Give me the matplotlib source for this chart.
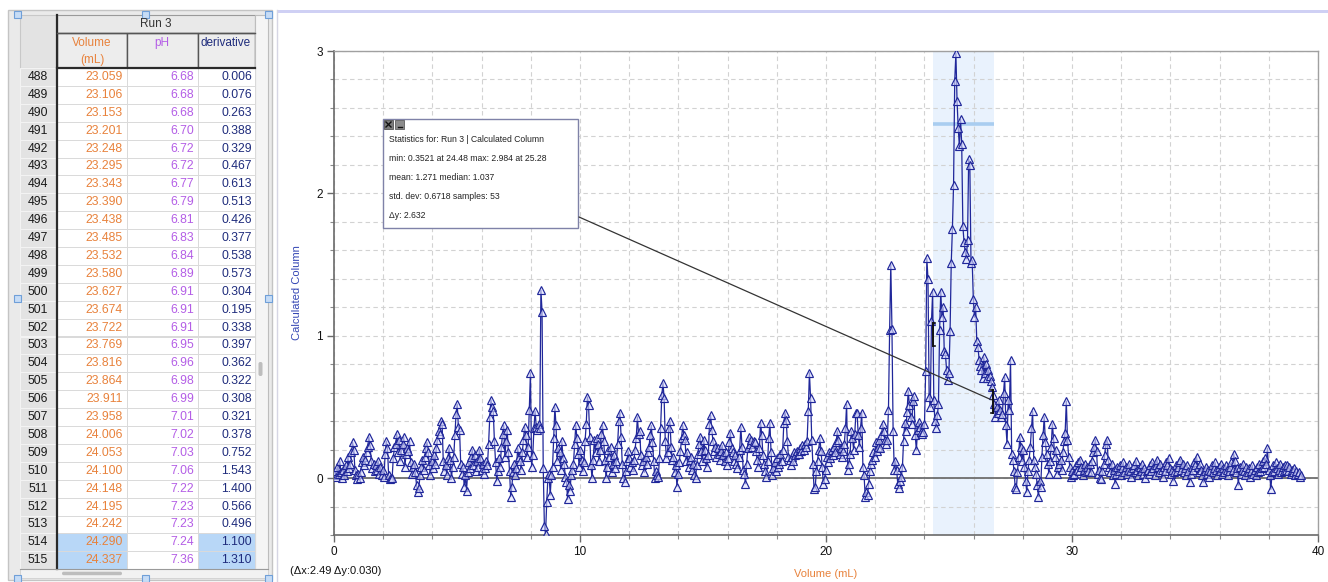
import numpy as np
import matplotlib
matplotlib.use("Agg")
import matplotlib.pyplot as plt
from matplotlib.patches import Rectangle, FancyBboxPatch, ConnectionPatch
from matplotlib.ticker import MultipleLocator

plt.rcParams['font.family'] = ['Liberation Sans', 'DejaVu Sans']

# ---------------- Run 3 table rows ----------------
row_numbers = list(range(488, 516))
table_volume = [23.059, 23.106, 23.153, 23.201, 23.248, 23.295, 23.343, 23.390,
                23.438, 23.485, 23.532, 23.580, 23.627, 23.674, 23.722, 23.769,
                23.816, 23.864, 23.911, 23.958, 24.006, 24.053, 24.100, 24.148,
                24.195, 24.242, 24.290, 24.337]
table_ph = [6.68, 6.68, 6.68, 6.70, 6.72, 6.72, 6.77, 6.79, 6.81, 6.83, 6.84, 6.89,
            6.91, 6.91, 6.91, 6.95, 6.96, 6.98, 6.99, 7.01, 7.02, 7.03, 7.06, 7.22,
            7.23, 7.23, 7.24, 7.36]
table_deriv = [0.006, 0.076, 0.263, 0.388, 0.329, 0.467, 0.613, 0.513, 0.426, 0.377,
               0.538, 0.573, 0.304, 0.195, 0.338, 0.397, 0.362, 0.322, 0.308, 0.321,
               0.378, 0.752, 1.543, 1.400, 0.566, 0.496, 1.100, 1.310]
selected_rows = [514, 515]

# ---------------- Calculated Column (derivative) by volume range ----------------
deriv_0_4mL = [
    0.02, 0.05, 0.01, 0.08, 0.03, 0.12, 0.04, 0.00, 0.06, 0.02,
    0.09, 0.05, 0.15, 0.07, 0.10, 0.18, 0.25, 0.20, 0.06, 0.02,
    -0.01, 0.03, 0.00, 0.04, 0.11, 0.15, 0.09, 0.13, 0.18, 0.22,
    0.29, 0.23, 0.12, 0.07, 0.10, 0.05, 0.09, 0.06, 0.12, 0.03,
    0.08, 0.02, 0.06, 0.01, 0.17, 0.26, 0.21, 0.02, -0.01, 0.00,
    0.00, 0.14, 0.22, 0.24, 0.31, 0.18, 0.27, 0.12, 0.20, 0.24,
    0.29, 0.08, 0.17, 0.21, 0.19, 0.26, 0.11, 0.03, 0.08, 0.10,
    0.04, -0.05, -0.10, -0.07, 0.02, 0.08, 0.13, 0.06, 0.15, 0.21,
    0.25, 0.18, 0.09, 0.02, 0.12, 0.07, 0.16, 0.10, 0.21, 0.27,
    0.33, 0.31, 0.40, 0.38, 0.12, 0.05, 0.09, 0.02, 0.14, 0.21]
deriv_4_9mL = [
    0.13, 0.00, 0.08, 0.15, 0.30, 0.45, 0.52, 0.36, 0.34, 0.10,
    0.03, 0.08, -0.06, 0.02, -0.09, 0.04, 0.11, 0.07, 0.15, 0.20,
    0.09, 0.16, 0.05, 0.12, 0.08, 0.20, 0.14, 0.06, 0.10, 0.03,
    0.07, 0.12, 0.09, 0.24, 0.43, 0.55, 0.50, 0.47, 0.26, 0.11,
    -0.02, 0.05, 0.14, 0.08, 0.22, 0.31, 0.37, 0.15, 0.26, 0.34,
    0.18, 0.05, -0.13, -0.06, 0.04, 0.10, 0.02, 0.07, 0.21, 0.15,
    0.12, 0.06, 0.18, 0.27, 0.36, 0.30, 0.15, 0.22, 0.48, 0.74,
    0.08, 0.16, 0.35, 0.47, 0.36, 0.34, 0.38, 0.35, 1.32, 1.17,
    0.07, -0.34, -0.39, -0.17, 0.00, 0.03, -0.12, 0.02, 0.08, 0.28,
    0.50, 0.37, 0.12, 0.21, 0.18, 0.06, 0.26, 0.14, 0.10, 0.01]
deriv_9_14mL = [
    -0.03, -0.15, -0.05, -0.09, 0.02, 0.06, 0.10, 0.24, 0.37, 0.28,
    0.17, 0.08, 0.20, 0.13, 0.05, 0.11, 0.26, 0.38, 0.57, 0.51,
    0.29, 0.09, 0.00, 0.13, 0.27, 0.18, 0.28, 0.24, 0.12, 0.20,
    0.31, 0.37, 0.26, 0.13, 0.00, 0.08, 0.20, 0.15, 0.22, 0.04,
    0.10, 0.16, 0.07, 0.12, 0.24, 0.40, 0.46, 0.29, 0.10, 0.00,
    -0.03, 0.05, 0.12, 0.19, 0.14, 0.08, 0.11, 0.06, 0.13, 0.20,
    0.28, 0.43, 0.31, 0.33, 0.16, 0.09, 0.12, 0.04, 0.15, 0.10,
    0.18, 0.22, 0.30, 0.37, 0.25, 0.12, 0.00, 0.05, 0.02, 0.01,
    0.14, 0.35, 0.58, 0.67, 0.56, 0.26, 0.14, 0.18, 0.35, 0.40,
    0.22, 0.13, 0.15, 0.04, 0.09, -0.06, 0.03, 0.11, 0.19, 0.28]
deriv_14_18mL = [
    0.37, 0.30, 0.27, 0.12, 0.18, 0.08, 0.13, 0.15, 0.06, 0.10,
    0.02, 0.00, 0.09, 0.17, 0.24, 0.29, 0.19, 0.12, 0.27, 0.20,
    0.14, 0.08, 0.16, 0.38, 0.44, 0.34, 0.26, 0.19, 0.22, 0.15,
    0.21, 0.17, 0.13, 0.19, 0.23, 0.16, 0.12, 0.18, 0.09, 0.14,
    0.25, 0.32, 0.21, 0.18, 0.12, 0.16, 0.10, 0.07, 0.15, 0.20,
    0.36, 0.22, 0.06, 0.03, -0.04, 0.10, 0.21, 0.29, 0.24, 0.27,
    0.22, 0.26, 0.25, 0.19, 0.13, 0.08, 0.21, 0.39, 0.30, 0.16,
    0.10, 0.05, 0.01, 0.12, 0.28, 0.39, 0.18, 0.02, 0.07, 0.11,
    0.05, 0.14, 0.08, 0.10, 0.17, 0.12, 0.20, 0.39, 0.46, 0.41,
    0.26, 0.15, 0.13, 0.09, 0.15, 0.12, 0.18, 0.16, 0.19, 0.17]
deriv_18_23mL = [
    0.17, 0.21, 0.19, 0.23, 0.20, 0.24, 0.22, 0.26, 0.47, 0.74,
    0.56, 0.27, 0.10, -0.08, -0.06, 0.05, 0.12, 0.20, 0.28, 0.19,
    0.08, -0.04, -0.01, 0.06, 0.15, 0.11, 0.18, 0.14, 0.20, 0.16,
    0.22, 0.18, 0.25, 0.33, 0.27, 0.17, 0.21, 0.15, 0.19, 0.24,
    0.35, 0.52, 0.06, 0.10, 0.17, 0.33, 0.28, 0.20, 0.31, 0.46,
    0.46, 0.30, 0.22, 0.35, 0.46, 0.08, 0.02, -0.13, -0.10, -0.12,
    -0.04, 0.05, 0.10, 0.13, 0.18, 0.15, 0.25, 0.19, 0.22, 0.27,
    0.21, 0.30, 0.38, 0.33, 0.27, 0.24, 0.27, 0.48, 1.04, 1.50,
    1.05, 0.33, 0.06, 0.12, 0.06, -0.04, -0.07, -0.02]
deriv_24_28mL = [
    0.55, 0.40, 0.3521, 0.44, 0.52, 1.037, 1.31, 1.13, 1.20, 0.89,
    0.87, 0.76, 0.69, 0.74,
    1.03, 1.51, 1.75, 2.06, 2.79, 2.984, 2.65, 2.46, 2.33, 2.52,
    2.35, 1.77, 1.66, 1.59, 1.54, 1.67, 2.24, 2.20, 1.51, 1.53,
    1.26, 1.13, 1.20, 0.96, 0.92, 0.83, 0.79, 0.76, 0.70, 0.85,
    0.74, 0.80, 0.70, 0.76, 0.72, 0.68, 0.64, 0.58, 0.52, 0.43,
    0.50, 0.46, 0.55, 0.48, 0.43,
    0.45, 0.60, 0.71, 0.37, 0.24, 0.55, 0.48, 0.83, 0.17, 0.13,
    0.05, -0.06, -0.08, 0.04, 0.15, 0.29, 0.22, 0.12, 0.20, 0.08,
    -0.02, -0.10, 0.05, 0.13, 0.22]
deriv_28_33mL = [
    0.35, 0.47, 0.13, 0.08, 0.03, -0.05, -0.13, -0.02, -0.06, 0.15,
    0.30, 0.43, 0.25, 0.17, 0.10, 0.03, 0.12, 0.22, 0.38, 0.28,
    0.15, 0.20, 0.03, 0.08, 0.10, 0.13, 0.06, 0.18, 0.26, 0.32,
    0.54, 0.27, 0.15, 0.08, 0.01, 0.05, 0.02, 0.03, 0.09, 0.06,
    0.11, 0.05, 0.13, 0.08, 0.02, 0.06, 0.10, 0.04, 0.08, 0.05,
    0.10, 0.04, 0.12, 0.18, 0.22, 0.27, 0.19, 0.03, 0.06, 0.00,
    -0.01, 0.05, 0.10, 0.16, 0.24, 0.27, 0.13, 0.08, 0.04, 0.10,
    0.02, 0.06, -0.04, 0.03, 0.08, 0.05, 0.09, 0.02, 0.07, 0.11,
    0.04, 0.08, 0.03, 0.06, 0.10, 0.05, 0.01, 0.07, 0.09, 0.04,
    0.12, 0.06, 0.02, 0.08, 0.05, 0.10, 0.03, 0.07, 0.00, 0.05]
deriv_33_39mL = [
    0.06, 0.03, 0.09, 0.05, 0.11, 0.07, 0.02, 0.09, 0.13, 0.08,
    0.04, 0.10, 0.06, 0.01, 0.08, 0.05, 0.11, 0.09, 0.14, 0.07,
    0.03, 0.06, -0.02, 0.04, 0.09, 0.05, 0.08, 0.11, 0.13, 0.06,
    0.10, 0.04, 0.07, 0.02, 0.09, 0.05, -0.03, 0.03, 0.08, 0.06,
    0.11, 0.09, 0.15, 0.08, 0.04, 0.10, 0.06, 0.02, -0.03, 0.05,
    0.08, 0.03, 0.06, 0.01, 0.05, 0.09, 0.04, 0.07, 0.11, 0.06,
    0.02, 0.08, 0.05, 0.10, 0.03, 0.07, 0.04, 0.09, 0.06, 0.02,
    0.05, 0.08, 0.11, 0.06, 0.17, 0.12, 0.04, 0.07, -0.05, 0.08,
    0.03, 0.06, 0.10, 0.05, 0.02, 0.08, 0.04, 0.07, 0.01, 0.05,
    0.09, 0.03, 0.06, 0.02, 0.08, 0.04, 0.10, 0.05, 0.07, 0.12,
    0.08, 0.14, 0.10, 0.21, 0.06, 0.02, -0.08, 0.04, 0.09, 0.05,
    0.11, 0.07, 0.03, 0.06, 0.10, 0.04, 0.08, 0.05, 0.09, 0.06,
    0.09, 0.05, 0.08, 0.03, 0.06, 0.04, 0.07, 0.02, 0.05, 0.03,
    0.04, 0.01, 0.02]

stats_lines = ["Statistics for: Run 3 | Calculated Column",
               "min: 0.3521 at 24.48 max: 2.984 at 25.28",
               "mean: 1.271 median: 1.037",
               "std. dev: 0.6718 samples: 53",
               "\u0394y: 2.632"]
region_start, region_end = 24.33, 26.82
region_level = 2.49
delta_text = "(\u0394x:2.49 \u0394y:0.030)"

# ---------------- assemble series ----------------
derivative = np.array(deriv_0_4mL + deriv_4_9mL + deriv_9_14mL + deriv_14_18mL
                      + deriv_18_23mL + table_deriv + deriv_24_28mL
                      + deriv_28_33mL + deriv_33_39mL)
step = table_volume[0] / row_numbers[0]          # mL per sample
volume = np.arange(len(derivative)) * step

W, H = 1328, 582
fig = plt.figure(figsize=(W / 100, H / 100), dpi=100, facecolor='white')

# pixel-space background layer (table panel, labels)
bg = fig.add_axes([0, 0, 1, 1], zorder=0)
bg.set_xlim(0, W)
bg.set_ylim(H, 0)
bg.axis('off')

ORANGE = '#e8823c'
VIOLET = '#b45ee6'
NAVY = '#1f2c7c'
LINE = '#20279a'

# ---- table panel ----
bg.add_patch(Rectangle((8, 10), 264, 570, fc='#eaeaea', ec='#c4c4c4', lw=1))
row_top = 68
row_h = 17.9
n_rows = len(row_numbers)
tbl_bottom = row_top + n_rows * row_h
col_x = [57, 127, 198, 255]

# corner / header cells
bg.add_patch(Rectangle((20, 15), 37, 53, fc='#e3e3e3', ec='#c8c8c8', lw=0.8))
bg.add_patch(Rectangle((57, 15), 198, 18, fc='#e9e9e9', ec='#9a9a9a', lw=0.8))
for a, b in zip(col_x[:-1], col_x[1:]):
    bg.add_patch(Rectangle((a, 33), b - a, 35, fc='#ededed', ec='#555555', lw=1))
bg.add_patch(Rectangle((255, 15), 13, tbl_bottom - 15, fc='#f5f5f5', ec='#bdbdbd', lw=0.8))
bg.text(156, 24, "Run 3", ha='center', va='center', fontsize=8.5, color='#333333')
bg.text(92, 43, "Volume", ha='center', va='center', fontsize=8.5, color=ORANGE)
bg.text(92, 60, "(mL)", ha='center', va='center', fontsize=8.5, color=ORANGE)
bg.text(162, 43, "pH", ha='center', va='center', fontsize=8.5, color=VIOLET)
bg.text(226, 43, "derivative", ha='center', va='center', fontsize=8.5, color=NAVY)

# data rows
for k, rn in enumerate(row_numbers):
    y0 = row_top + k * row_h
    yc = y0 + row_h / 2
    bg.add_patch(Rectangle((20, y0), 37, row_h, fc='#e3e3e3', ec='#f3f3f3', lw=0.8))
    sel = rn in selected_rows
    for j, (a, b) in enumerate(zip(col_x[:-1], col_x[1:])):
        fc = '#b8d7f7' if (sel and j != 1) else 'white'
        bg.add_patch(Rectangle((a, y0), b - a, row_h, fc=fc, ec='#dadada', lw=0.7))
    bg.text(38, yc, str(rn), ha='center', va='center', fontsize=8.8, color='#1a1a1a')
    bg.text(123, yc, f"{table_volume[k]:.3f}", ha='right', va='center',
            fontsize=8.8, color=ORANGE)
    bg.text(194, yc, f"{table_ph[k]:.2f}", ha='right', va='center',
            fontsize=8.8, color=VIOLET)
    bg.text(252, yc, f"{table_deriv[k]:.3f}", ha='right', va='center',
            fontsize=8.8, color=NAVY)

bg.plot([57, 57], [15, tbl_bottom], color='#2a2a2a', lw=1.6)
bg.plot([57, 255], [row_top, row_top], color='#2a2a2a', lw=1.6)
bg.plot([57, 255], [33, 33], color='#555555', lw=1)
bg.plot([20, 268], [tbl_bottom, tbl_bottom], color='#9a9a9a', lw=0.8)
# scrollbars
bg.add_patch(Rectangle((20, tbl_bottom), 248, 9, fc='#f2f2f2', ec='#cfcfcf', lw=0.6))
bg.add_patch(FancyBboxPatch((62, tbl_bottom + 2.5), 60, 3.5,
                            boxstyle='round,pad=0,rounding_size=1.7',
                            fc='#bdbdbd', ec='none'))
bg.add_patch(FancyBboxPatch((258.5, 362), 4, 14,
                            boxstyle='round,pad=0,rounding_size=1.8',
                            fc='#bdbdbd', ec='none'))
# resize handles
for hx, hy in [(17, 14), (145, 14), (268, 14), (17, 298), (268, 298),
               (17, 578), (145, 578), (268, 578)]:
    bg.add_patch(Rectangle((hx - 3.5, hy - 3.5), 7, 7, fc='#c6dcf6', ec='#6f9fd8', lw=0.8))

# ---- graph panel frame ----
bg.add_patch(Rectangle((277, 9.5), W - 277, 3.5, fc='#cfd0f4', ec='none'))
bg.plot([276.5, 276.5], [10, H], color='#d6d6e4', lw=1)
bg.text(826, 574, "Volume (mL)", ha='center', va='center', fontsize=8, color=ORANGE)
bg.text(297, 293, "Calculated Column", ha='center', va='center', rotation=90,
        fontsize=8, color='#3446b4')
bg.text(290, 571, delta_text, ha='left', va='center', fontsize=8, color='#111111')

# ---- graph ----
x0, x1, ytop, ybot = 334, 1318, 51, 535
ax = fig.add_axes([x0 / W, (H - ybot) / H, (x1 - x0) / W, (ybot - ytop) / H], zorder=1)
ax.set_facecolor('none')
ax.set_xlim(0, 40)
ax.set_ylim(-0.4, 3.0)
ax.xaxis.set_major_locator(MultipleLocator(10))
ax.xaxis.set_minor_locator(MultipleLocator(2))
ax.yaxis.set_major_locator(MultipleLocator(1))
ax.yaxis.set_minor_locator(MultipleLocator(0.2))
ax.grid(which='both', linestyle=(0, (4, 3)), color='#d2d2d2', lw=0.8)
ax.set_axisbelow(True)
for side in ['top', 'right']:
    ax.spines[side].set_color('#a0a0a0')
    ax.spines[side].set_linewidth(1)
for side in ['left', 'bottom']:
    ax.spines[side].set_color('#6a6a6a')
    ax.spines[side].set_linewidth(1.2)
ax.tick_params(which='major', length=5, width=1, color='#6a6a6a',
               labelsize=8.5, pad=3, labelcolor='#111111')
ax.tick_params(which='minor', length=3, width=0.8, color='#8a8a8a')

ax.axvspan(region_start, region_end, color='#e9f2fd', zorder=0.5, lw=0)
ax.axhline(0, color='#6e6e6e', lw=1.3, zorder=1.5)
ax.hlines(region_level, region_start, region_end, color='#a9cdf0', lw=2.6, zorder=1.6)

ax.plot(volume, derivative, color=LINE, lw=0.9, marker='^', ms=6,
        mfc=(0.87, 0.88, 1.0, 0.6), mec=LINE, mew=0.85, zorder=3)

# selection brackets at the region edges
ax.plot([24.36, 24.36], [0.93, 1.09], color='#111111', lw=1.4, zorder=4)
ax.plot([24.36, 24.42], [0.93, 0.93], color='#111111', lw=1.2, zorder=4)
ax.plot([24.36, 24.42], [1.09, 1.09], color='#111111', lw=1.2, zorder=4)
ax.plot([26.78, 26.78], [0.46, 0.62], color='#111111', lw=1.4, zorder=4)
ax.plot([26.72, 26.78], [0.46, 0.46], color='#111111', lw=1.2, zorder=4)
ax.plot([26.72, 26.78], [0.62, 0.62], color='#111111', lw=1.2, zorder=4)

# ---- statistics box overlay ----
ov = fig.add_axes([0, 0, 1, 1], zorder=5)
ov.set_xlim(0, W)
ov.set_ylim(H, 0)
ov.axis('off')
ov.patch.set_alpha(0)
ov.add_patch(Rectangle((383, 119), 195, 109, fc='white', ec='#7f82a8', lw=1))
ov.add_patch(Rectangle((384, 120), 9, 9, fc='#7c7c7c', ec='#555555', lw=0.6))
ov.plot([386, 391], [122, 127], color='#111111', lw=1)
ov.plot([386, 391], [127, 122], color='#111111', lw=1)
ov.add_patch(Rectangle((395, 120), 9, 9, fc='#8c8c8c', ec='#5f5f5f', lw=0.6))
ov.plot([397.5, 401.5], [127, 127], color='#111111', lw=1)
for k, line in enumerate(stats_lines):
    ov.text(389, 140 + k * 18.9, line, ha='left', va='center', fontsize=6.2,
            color='#222222')
con = ConnectionPatch(xyA=(579, 217), coordsA=ov.transData,
                      xyB=(26.72, 0.55), coordsB=ax.transData,
                      color='#333333', lw=0.9)
ov.add_artist(con)

fig.savefig("out.png", dpi=100, facecolor='white')
